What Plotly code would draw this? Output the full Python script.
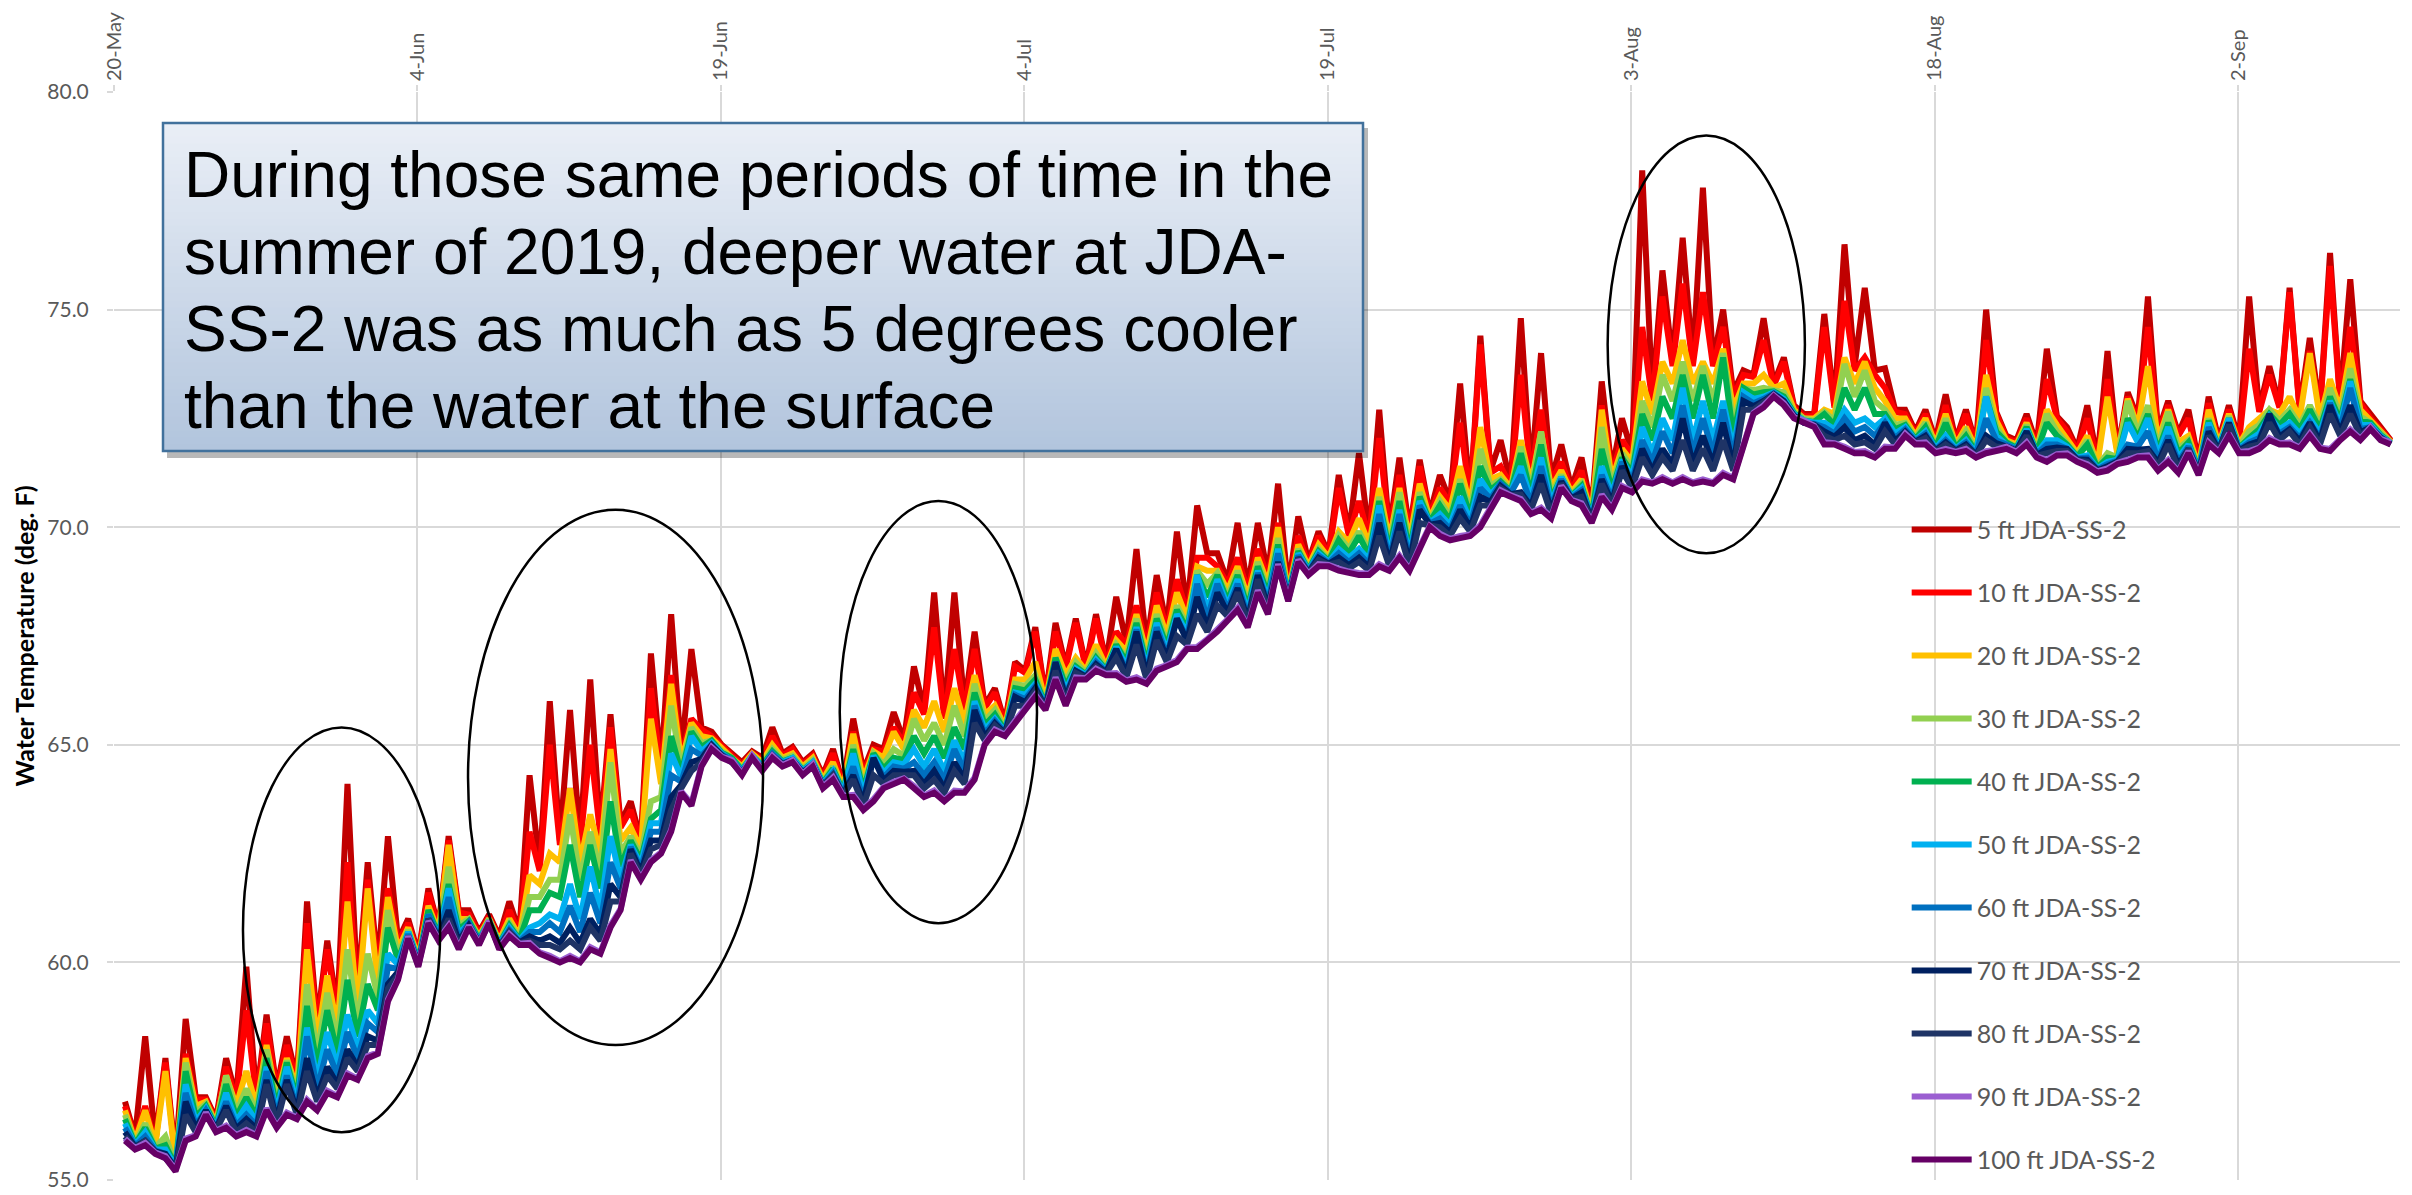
import plotly.graph_objects as go
import pandas as pd

# ---------------- data (deg F), one value per afternoon (DAY) and per night (NIGHT) ----------------
START = "2019-05-20 13:00"
DEPTHS = ["5 ft JDA-SS-2", "10 ft JDA-SS-2", "20 ft JDA-SS-2", "30 ft JDA-SS-2", "40 ft JDA-SS-2",
          "50 ft JDA-SS-2", "60 ft JDA-SS-2", "70 ft JDA-SS-2", "80 ft JDA-SS-2", "90 ft JDA-SS-2",
          "100 ft JDA-SS-2"]
COLORS = ["#C00000", "#FF0000", "#FFC000", "#92D050", "#00B050", "#00B0F0", "#0070C0",
          "#002060", "#1F3466", "#9B5FD1", "#660066"]

D5 = [56.8, 58.3, 57.8, 58.7, 56.9, 57.8, 59.9, 58.8, 58.3, 61.4,
      60.5, 64.1, 62.3, 62.9, 61.0, 61.7, 62.9, 61.2, 61.1, 61.4,
      64.3, 66.0, 65.8, 66.5, 65.7, 63.7, 67.1, 68.0, 67.2, 65.3,
      64.8, 64.85, 65.4, 64.95, 64.8, 64.9, 65.6, 65.0, 65.75, 66.8,
      68.5, 68.5, 67.6, 66.3, 66.9, 67.7, 67.8, 67.9, 68.0, 68.4,
      69.5, 68.9, 69.9, 70.5, 69.4, 70.1, 70.1, 71.0, 70.25, 69.9,
      71.2, 71.7, 72.7, 71.6, 71.55, 71.2, 73.3, 74.4, 72.0, 74.8,
      74.0, 71.9, 71.6, 73.35, 72.5, 78.2, 75.9, 76.65, 77.8, 75.0,
      73.6, 74.8, 73.9, 72.6, 74.9, 76.5, 75.5, 73.65, 72.7, 72.7,
      73.05, 72.7, 75.0, 72.1, 72.6, 74.1, 72.3, 72.8, 74.05, 73.1,
      75.3, 72.9, 72.7, 73.0, 72.8, 75.3, 73.7, 75.5, 74.35, 76.3,
      75.7, 72.6, 72.0]
D10 = [56.7, 56.7, 57.7, 57.9, 56.85, 57.6, 58.9, 58.6, 58.1, 60.9,
       60.3, 62.3, 61.9, 61.7, 60.9, 61.6, 62.8, 61.1, 61.05, 61.2,
       63.0, 65.0, 64.0, 65.0, 65.4, 63.5, 66.3, 66.6, 65.6, 65.2,
       64.75, 64.8, 65.2, 64.9, 64.75, 64.8, 65.3, 64.9, 65.4, 66.2,
       67.7, 67.2, 67.2, 66.2, 66.8, 67.6, 67.6, 67.8, 67.9, 67.6,
       68.2, 68.5, 68.8, 69.3, 69.1, 69.3, 69.5, 70.1, 69.8, 69.8,
       70.9, 70.6, 72.05, 71.2, 71.4, 70.9, 72.4, 74.2, 71.4, 73.5,
       72.7, 71.5, 71.3, 72.8, 72.0, 74.6, 75.3, 75.6, 75.4, 74.6,
       73.5, 74.3, 73.8, 72.55, 74.6, 75.2, 73.9, 73.2, 72.6, 72.6,
       72.8, 72.6, 74.3, 72.05, 72.5, 73.4, 72.2, 72.5, 73.4, 73.0,
       74.6, 72.8, 72.5, 72.85, 72.7, 74.1, 73.5, 75.4, 74.05, 76.0,
       74.6, 72.5, 71.98]
D20 = [56.6, 56.6, 57.5, 57.8, 56.8, 57.4, 57.5, 58.1, 57.8, 60.3,
       59.7, 61.4, 61.7, 61.5, 60.8, 61.3, 62.7, 61.0, 61.0, 61.0,
       62.0, 62.5, 64.0, 63.4, 64.9, 63.1, 65.6, 66.4, 65.5, 65.15,
       64.7, 64.8, 65.0, 64.8, 64.7, 64.6, 65.25, 64.85, 65.3, 65.8,
       66.0, 66.3, 66.6, 65.9, 66.5, 66.9, 67.2, 67.0, 67.3, 67.4,
       68.0, 68.2, 68.5, 69.1, 69.0, 69.1, 69.3, 70.0, 69.6, 69.6,
       69.9, 70.2, 70.9, 70.9, 71.0, 70.7, 71.4, 72.3, 71.2, 72.0,
       72.2, 71.3, 71.1, 72.7, 71.8, 73.35, 73.8, 74.3, 73.8, 74.1,
       73.3, 73.5, 73.3, 72.5, 72.7, 73.9, 73.8, 72.9, 72.5, 72.5,
       72.6, 72.3, 73.5, 72.0, 72.4, 72.7, 72.0, 72.1, 73.0, 72.95,
       73.7, 72.7, 72.1, 72.7, 72.6, 72.3, 72.7, 73.0, 74.0, 73.4,
       74.0, 72.45, 71.96]
D30 = [56.5, 56.3, 56.0, 57.7, 56.75, 57.4, 57.1, 58.0, 57.75, 59.5,
       59.3, 60.3, 60.2, 61.2, 60.75, 61.2, 62.2, 61.0, 61.0, 60.9,
       61.5, 61.9, 63.4, 63.0, 64.6, 62.9, 63.7, 65.9, 65.4, 65.1,
       64.7, 64.75, 64.9, 64.75, 64.65, 64.5, 65.0, 64.8, 64.9, 65.6,
       65.5, 65.9, 66.4, 65.8, 66.4, 66.6, 67.0, 66.9, 67.1, 67.3,
       67.9, 68.0, 68.2, 69.0, 68.95, 69.0, 69.2, 69.75, 69.5, 69.5,
       69.8, 69.9, 70.7, 70.8, 70.8, 70.6, 71.1, 71.8, 71.1, 71.85,
       72.2, 71.2, 71.0, 72.3, 71.7, 72.9, 73.5, 73.8, 73.7, 74.0,
       73.2, 73.2, 73.1, 72.5, 72.65, 73.75, 73.6, 72.7, 72.4, 72.4,
       72.5, 72.2, 73.2, 71.95, 72.35, 72.6, 71.95, 72.0, 71.7, 72.9,
       72.8, 72.65, 72.0, 72.5, 72.55, 72.2, 72.7, 72.7, 72.8, 73.2,
       73.65, 72.4, 71.95]
D40 = [56.4, 56.2, 55.8, 57.5, 56.7, 57.2, 56.9, 57.8, 57.7, 59.0,
       58.9, 59.6, 59.5, 60.8, 60.7, 61.2, 61.8, 60.95, 60.95, 60.85,
       61.2, 61.6, 62.7, 62.7, 63.7, 62.8, 63.3, 65.2, 65.3, 65.1,
       64.7, 64.75, 64.85, 64.7, 64.6, 64.45, 64.9, 64.8, 64.7, 65.2,
       65.2, 65.4, 66.2, 65.7, 66.3, 66.5, 67.0, 66.8, 67.0, 67.3,
       67.8, 67.9, 68.1, 68.9, 68.9, 68.9, 69.1, 69.6, 69.45, 69.45,
       69.7, 69.8, 70.6, 70.6, 70.7, 70.5, 71.0, 71.4, 71.05, 71.7,
       71.9, 71.15, 70.95, 71.8, 71.6, 72.6, 73.0, 73.5, 73.5, 73.9,
       73.2, 73.1, 73.0, 72.45, 72.6, 73.2, 73.2, 72.6, 72.35, 72.3,
       72.4, 72.1, 73.0, 71.95, 72.3, 72.4, 71.9, 71.9, 71.6, 72.5,
       72.6, 72.4, 71.95, 72.45, 72.5, 72.05, 72.6, 72.6, 72.7, 73.0,
       73.4, 72.4, 71.94]
D50 = [56.3, 56.1, 55.7, 57.2, 56.65, 57.0, 56.7, 57.6, 57.6, 58.5,
       58.4, 58.8, 58.9, 60.2, 60.7, 61.1, 61.7, 60.9, 60.95, 60.8,
       60.8, 61.1, 61.8, 62.2, 62.9, 62.7, 63.2, 64.8, 65.2, 65.05,
       64.65, 64.75, 64.8, 64.7, 64.6, 64.4, 64.8, 64.75, 64.6, 64.9,
       64.9, 65.1, 66.0, 65.6, 66.2, 66.4, 66.9, 66.75, 66.95, 67.25,
       67.7, 67.8, 68.0, 68.9, 68.8, 68.8, 69.0, 69.5, 69.4, 69.4,
       69.5, 69.5, 70.5, 70.4, 70.6, 70.3, 70.7, 71.1, 71.0, 71.4,
       71.6, 71.15, 70.9, 71.4, 71.55, 72.3, 72.5, 73.2, 72.9, 72.9,
       73.1, 73.0, 72.95, 72.45, 72.4, 72.7, 72.5, 72.5, 72.3, 72.2,
       72.1, 72.0, 73.0, 71.9, 72.25, 72.0, 71.85, 71.65, 71.5, 72.4,
       72.5, 72.3, 71.9, 72.4, 72.5, 72.0, 72.55, 72.4, 72.5, 72.9,
       73.35, 72.35, 71.93]
D60 = [56.2, 56.0, 55.6, 57.0, 56.6, 56.8, 56.5, 57.5, 57.4, 58.3,
       58.0, 58.4, 58.6, 59.9, 60.65, 61.1, 61.5, 60.9, 60.9, 60.75,
       60.7, 60.9, 61.3, 61.6, 62.3, 62.65, 63.0, 64.3, 64.9, 65.0,
       64.65, 64.7, 64.8, 64.65, 64.55, 64.35, 64.5, 64.7, 64.5, 64.6,
       64.6, 64.9, 65.9, 65.55, 66.15, 66.35, 66.9, 66.7, 66.9, 67.2,
       67.65, 67.7, 67.9, 68.7, 68.7, 68.7, 68.95, 69.4, 69.35, 69.35,
       69.4, 69.4, 70.3, 70.3, 70.5, 70.2, 70.5, 70.9, 71.0, 71.2,
       71.4, 71.1, 70.85, 71.2, 71.5, 72.0, 72.2, 72.8, 72.5, 72.7,
       73.0, 72.95, 72.9, 72.4, 72.3, 72.5, 72.3, 72.4, 72.25, 72.15,
       72.0, 71.95, 72.5, 71.9, 72.2, 71.9, 71.8, 71.6, 71.45, 71.9,
       72.2, 72.1, 71.85, 72.3, 72.4, 71.95, 72.5, 72.3, 72.4, 72.85,
       73.2, 72.3, 71.92]
D70 = [56.1, 55.9, 55.6, 56.8, 56.6, 56.7, 56.4, 57.3, 57.3, 57.8,
       57.6, 58.0, 58.3, 59.5, 60.6, 61.0, 61.2, 60.85, 60.9, 60.7,
       60.6, 60.6, 60.8, 61.0, 61.8, 62.6, 62.8, 63.8, 64.6, 65.0,
       64.6, 64.7, 64.75, 64.65, 64.55, 64.3, 64.3, 64.7, 64.4, 64.4,
       64.4, 64.6, 65.8, 65.5, 66.1, 66.3, 66.9, 66.7, 66.85, 67.2,
       67.6, 67.6, 67.9, 68.4, 68.5, 68.6, 68.9, 69.2, 69.3, 69.3,
       69.3, 69.3, 70.1, 70.1, 70.4, 70.1, 70.4, 70.7, 70.95, 70.8,
       71.2, 71.05, 70.8, 71.1, 71.4, 71.8, 71.8, 72.5, 72.1, 72.4,
       72.9, 72.9, 72.9, 72.4, 72.2, 72.3, 72.1, 72.4, 72.2, 72.1,
       71.95, 71.9, 72.1, 71.85, 72.2, 71.8, 71.8, 71.55, 71.4, 71.8,
       71.8, 72.0, 71.8, 72.2, 72.4, 71.9, 72.6, 72.25, 72.4, 72.8,
       72.8, 72.3, 71.91]
D80 = [56.0, 55.9, 55.5, 56.5, 56.55, 56.6, 56.3, 57.2, 57.2, 57.5,
       57.4, 57.8, 58.1, 59.4, 60.6, 61.0, 61.0, 60.85, 60.9, 60.7,
       60.5, 60.4, 60.5, 60.8, 61.4, 62.5, 62.6, 63.5, 64.4, 64.95,
       64.6, 64.7, 64.75, 64.6, 64.5, 64.3, 64.2, 64.3, 64.3, 64.3,
       64.2, 64.4, 65.5, 65.45, 65.9, 66.25, 66.7, 66.65, 66.8, 67.0,
       67.3, 67.4, 67.5, 68.0, 68.2, 68.5, 68.8, 69.15, 69.3, 69.25,
       69.2, 69.2, 69.8, 69.9, 70.1, 70.0, 70.2, 70.5, 70.9, 70.75,
       71.0, 71.0, 70.7, 71.0, 71.3, 71.6, 71.6, 72.0, 71.8, 72.0,
       72.7, 72.85, 72.85, 72.4, 72.1, 72.1, 71.95, 72.2, 72.15, 72.05,
       71.9, 71.85, 72.0, 71.85, 72.1, 71.7, 71.75, 71.5, 71.35, 71.7,
       71.75, 71.9, 71.8, 72.1, 72.35, 71.85, 72.4, 72.2, 72.3, 72.6,
       72.6, 72.3, 71.9]
D90 = [55.95, 55.85, 55.55, 55.95, 56.55, 56.25, 56.15, 56.65, 56.55, 56.85,
       57.05, 57.45, 57.85, 59.15, 60.6, 60.95, 60.85, 60.85, 60.95, 60.65,
       60.45, 60.15, 60.15, 60.35, 60.85, 62.35, 62.35, 63.05, 63.65, 64.95,
       64.65, 64.75, 64.75, 64.65, 64.55, 64.25, 63.85, 63.75, 64.15, 64.05,
       63.95, 63.95, 64.25, 65.35, 65.55, 66.15, 66.55, 66.55, 66.75, 66.65,
       66.55, 66.75, 66.95, 67.25, 67.65, 68.15, 68.55, 69.15, 69.25, 69.15,
       69.05, 68.95, 69.15, 69.35, 69.55, 69.85, 69.8, 70.05, 70.85, 70.65,
       70.45, 70.95, 70.55, 70.75, 70.95, 71.1, 71.15, 71.15, 71.1, 71.25,
       71.85, 72.8, 72.85, 72.45, 71.95, 71.85, 71.75, 71.85, 72.15, 71.95,
       71.8, 71.8, 71.75, 71.85, 71.95, 71.55, 71.7, 71.45, 71.35, 71.55,
       71.65, 71.55, 71.75, 71.95, 72.15, 71.75, 72.05, 71.95, 72.15, 71.8,
       72.25, 72.3, 71.95]
D100 = [55.9, 55.8, 55.5, 55.9, 56.5, 56.2, 56.1, 56.6, 56.5, 56.8,
        57.0, 57.4, 57.8, 59.1, 60.55, 60.9, 60.8, 60.8, 60.9, 60.6,
        60.4, 60.1, 60.1, 60.3, 60.8, 62.3, 62.3, 63.0, 63.6, 64.9,
        64.6, 64.7, 64.7, 64.6, 64.5, 64.2, 63.8, 63.7, 64.1, 64.0,
        63.9, 63.9, 64.2, 65.3, 65.5, 66.1, 66.5, 66.5, 66.7, 66.6,
        66.5, 66.7, 66.9, 67.2, 67.6, 68.1, 68.5, 69.1, 69.2, 69.1,
        69.0, 68.9, 69.1, 69.3, 69.5, 69.8, 69.75, 70.0, 70.8, 70.6,
        70.4, 70.9, 70.5, 70.7, 70.9, 71.05, 71.1, 71.1, 71.05, 71.2,
        71.8, 72.75, 72.8, 72.4, 71.9, 71.8, 71.7, 71.8, 72.1, 71.9,
        71.75, 71.75, 71.7, 71.8, 71.9, 71.5, 71.65, 71.4, 71.3, 71.5,
        71.6, 71.5, 71.7, 71.9, 72.1, 71.7, 72.0, 71.9, 72.1, 71.75,
        72.2, 72.25, 71.9]

N5 = [56.0, 55.9, 55.5, 56.9, 56.4, 56.9, 56.9, 57.1, 57.3, 58.6,
      58.9, 59.3, 59.9, 60.5, 60.2, 60.8, 61.2, 60.7, 60.6, 60.7,
      62.2, 62.8, 62.8, 63.0, 63.2, 62.8, 64.5, 64.8, 65.4, 65.0,
      64.6, 64.7, 64.8, 64.6, 64.3, 64.1, 64.4, 64.9, 65.1, 65.8,
      65.7, 65.9, 65.9, 65.5, 66.7, 66.1, 66.8, 66.8, 66.9, 67.35,
      67.3, 67.7, 68.1, 69.4, 68.75, 68.6, 68.9, 68.6, 69.2, 69.4,
      69.85, 69.8, 69.9, 69.9, 70.3, 70.6, 70.7, 71.3, 71.0, 71.2,
      71.1, 70.9, 70.4, 71.3, 71.7, 73.0, 73.8, 73.8, 73.8, 73.1,
      73.5, 73.3, 72.8, 72.6, 72.8, 73.7, 73.6, 72.7, 72.2, 72.0,
      72.0, 71.9, 72.65, 72.0, 71.9, 72.55, 71.8, 71.55, 71.75, 72.5,
      72.2, 72.15, 71.5, 72.0, 72.0, 72.7, 72.8, 72.7, 72.7, 72.9,
      72.9, 72.3]
N10 = [55.95, 55.85, 55.45, 56.85, 56.35, 56.85, 56.85, 57.05, 57.25, 58.5,
       58.8, 59.2, 59.8, 60.45, 60.15, 60.75, 61.15, 60.65, 60.55, 60.65,
       62.1, 62.7, 62.7, 62.9, 63.1, 62.75, 64.4, 64.75, 65.35, 64.95,
       64.55, 64.65, 64.75, 64.55, 64.25, 64.05, 64.35, 64.85, 65.05, 65.7,
       65.6, 65.8, 65.85, 65.45, 66.65, 66.05, 66.75, 66.75, 66.85, 67.3,
       67.25, 67.65, 68.05, 69.3, 68.7, 68.55, 68.85, 68.55, 69.15, 69.35,
       69.8, 69.75, 69.85, 69.85, 70.25, 70.55, 70.65, 71.25, 70.95, 71.15,
       71.05, 70.85, 70.35, 71.25, 71.65, 72.9, 73.7, 73.7, 73.7, 73.0,
       73.45, 73.25, 72.75, 72.55, 72.75, 73.6, 73.5, 72.65, 72.15, 71.95,
       71.95, 71.85, 72.6, 71.95, 71.85, 72.5, 71.75, 71.5, 71.7, 72.45,
       72.15, 72.1, 71.45, 71.95, 71.95, 72.65, 72.75, 72.65, 72.65, 72.85,
       72.85, 72.25]
N20 = [55.9, 55.8, 55.4, 56.7, 56.3, 56.7, 56.7, 56.9, 57.1, 58.2,
       58.5, 58.9, 59.5, 60.3, 60.1, 60.7, 61.0, 60.6, 60.5, 60.6,
       61.8, 62.3, 62.3, 62.5, 62.8, 62.6, 64.1, 64.6, 65.2, 64.9,
       64.5, 64.6, 64.7, 64.5, 64.2, 64.0, 64.2, 64.7, 64.9, 65.4,
       65.3, 65.5, 65.7, 65.4, 66.5, 66.0, 66.6, 66.7, 66.8, 67.15,
       67.1, 67.5, 67.9, 69.0, 68.55, 68.4, 68.7, 68.5, 69.1, 69.3,
       69.65, 69.6, 69.7, 69.7, 70.2, 70.4, 70.5, 71.1, 70.9, 71.0,
       70.9, 70.8, 70.3, 71.1, 71.5, 72.6, 73.3, 73.3, 73.3, 72.7,
       73.3, 73.2, 72.7, 72.5, 72.6, 73.3, 73.2, 72.5, 72.1, 71.9,
       71.9, 71.8, 72.45, 71.9, 71.8, 72.35, 71.7, 71.45, 71.65, 72.3,
       72.0, 71.95, 71.4, 71.9, 71.9, 72.5, 72.6, 72.5, 72.5, 72.7,
       72.7, 72.2]
N30 = [55.85, 55.75, 55.35, 56.55, 56.25, 56.55, 56.55, 56.75, 56.95, 57.9,
       58.2, 58.6, 59.2, 60.15, 60.05, 60.65, 60.85, 60.55, 60.45, 60.55,
       61.5, 61.9, 61.9, 62.1, 62.5, 62.45, 63.8, 64.45, 65.05, 64.85,
       64.45, 64.55, 64.65, 64.45, 64.15, 63.95, 64.05, 64.55, 64.75, 65.1,
       65.0, 65.2, 65.55, 65.35, 66.35, 65.95, 66.45, 66.65, 66.75, 67.0,
       66.95, 67.35, 67.75, 68.7, 68.4, 68.25, 68.55, 68.45, 69.05, 69.25,
       69.5, 69.45, 69.55, 69.55, 70.15, 70.25, 70.35, 70.95, 70.85, 70.85,
       70.75, 70.75, 70.25, 70.95, 71.35, 72.3, 72.9, 72.9, 72.9, 72.4,
       73.15, 73.15, 72.65, 72.45, 72.45, 73.0, 72.9, 72.35, 72.05, 71.85,
       71.85, 71.75, 72.3, 71.85, 71.75, 72.2, 71.65, 71.4, 71.6, 72.15,
       71.85, 71.8, 71.35, 71.85, 71.85, 72.35, 72.45, 72.35, 72.35, 72.55,
       72.55, 72.15]
N40 = [55.82, 55.72, 55.32, 56.45, 56.22, 56.45, 56.45, 56.65, 56.85, 57.6,
       57.9, 58.3, 58.9, 60.05, 60.02, 60.62, 60.75, 60.52, 60.42, 60.52,
       61.2, 61.5, 61.5, 61.7, 62.2, 62.35, 63.5, 64.35, 64.95, 64.82,
       64.42, 64.52, 64.62, 64.42, 64.12, 63.92, 63.95, 64.45, 64.65, 64.8,
       64.7, 64.9, 65.45, 65.32, 66.25, 65.92, 66.35, 66.62, 66.72, 66.9,
       66.85, 67.25, 67.65, 68.4, 68.3, 68.15, 68.45, 68.42, 69.02, 69.22,
       69.4, 69.35, 69.45, 69.45, 70.12, 70.15, 70.25, 70.85, 70.82, 70.75,
       70.65, 70.72, 70.22, 70.85, 71.25, 72.0, 72.5, 72.5, 72.5, 72.1,
       73.05, 73.12, 72.62, 72.42, 72.35, 72.7, 72.6, 72.25, 72.02, 71.82,
       71.82, 71.72, 72.2, 71.82, 71.72, 72.1, 71.62, 71.37, 71.57, 72.05,
       71.75, 71.7, 71.32, 71.82, 71.82, 72.25, 72.35, 72.25, 72.25, 72.45,
       72.45, 72.12]
N50 = [55.8, 55.7, 55.3, 56.35, 56.2, 56.35, 56.35, 56.55, 56.75, 57.3,
       57.6, 58.0, 58.6, 59.95, 60.0, 60.6, 60.65, 60.5, 60.4, 60.5,
       60.9, 61.0, 61.0, 61.2, 61.9, 62.25, 63.2, 64.25, 64.85, 64.8,
       64.4, 64.5, 64.6, 64.4, 64.1, 63.9, 63.85, 64.35, 64.55, 64.5,
       64.4, 64.6, 65.35, 65.3, 66.15, 65.9, 66.25, 66.6, 66.7, 66.8,
       66.75, 67.15, 67.55, 68.1, 68.2, 68.05, 68.35, 68.4, 69.0, 69.2,
       69.3, 69.25, 69.35, 69.35, 70.1, 70.05, 70.15, 70.75, 70.8, 70.65,
       70.55, 70.7, 70.2, 70.75, 71.15, 71.7, 72.0, 72.0, 72.0, 71.8,
       72.95, 73.1, 72.6, 72.4, 72.25, 72.4, 72.3, 72.15, 72.0, 71.8,
       71.8, 71.7, 72.1, 71.8, 71.7, 72.0, 71.6, 71.35, 71.55, 71.95,
       71.65, 71.6, 71.3, 71.8, 71.8, 72.15, 72.25, 72.15, 72.15, 72.35,
       72.35, 72.1]
N60 = [55.78, 55.68, 55.28, 56.25, 56.18, 56.25, 56.25, 56.45, 56.65, 57.1,
       57.4, 57.8, 58.4, 59.85, 59.98, 60.58, 60.55, 60.48, 60.38, 60.48,
       60.7, 60.7, 60.7, 60.9, 61.7, 62.15, 63.0, 64.15, 64.75, 64.78,
       64.38, 64.48, 64.58, 64.38, 64.08, 63.88, 63.75, 64.25, 64.45, 64.3,
       64.2, 64.4, 65.25, 65.28, 66.05, 65.88, 66.15, 66.58, 66.68, 66.7,
       66.65, 67.05, 67.45, 67.9, 68.1, 67.95, 68.25, 68.38, 68.98, 69.18,
       69.2, 69.15, 69.25, 69.25, 70.08, 69.95, 70.05, 70.65, 70.78, 70.55,
       70.45, 70.68, 70.18, 70.65, 71.05, 71.5, 71.7, 71.7, 71.7, 71.6,
       72.85, 73.08, 72.58, 72.38, 72.15, 72.2, 72.1, 72.05, 71.98, 71.78,
       71.78, 71.68, 72.0, 71.78, 71.68, 71.9, 71.58, 71.33, 71.53, 71.85,
       71.55, 71.5, 71.28, 71.78, 71.78, 72.05, 72.15, 72.05, 72.05, 72.25,
       72.25, 72.08]
N70 = [55.76, 55.66, 55.26, 56.18, 56.16, 56.18, 56.18, 56.38, 56.58, 56.9,
       57.2, 57.6, 58.2, 59.78, 59.96, 60.56, 60.48, 60.46, 60.36, 60.46,
       60.5, 60.45, 60.45, 60.65, 61.5, 62.08, 62.8, 64.08, 64.68, 64.76,
       64.36, 64.46, 64.56, 64.36, 64.06, 63.86, 63.68, 64.18, 64.38, 64.1,
       64.0, 64.2, 65.18, 65.26, 65.98, 65.86, 66.08, 66.56, 66.66, 66.63,
       66.58, 66.98, 67.38, 67.7, 68.03, 67.88, 68.18, 68.36, 68.96, 69.16,
       69.13, 69.08, 69.18, 69.18, 70.06, 69.88, 69.98, 70.58, 70.76, 70.48,
       70.38, 70.66, 70.16, 70.58, 70.98, 71.3, 71.45, 71.45, 71.45, 71.4,
       72.78, 73.06, 72.56, 72.36, 72.08, 72.0, 71.9, 71.98, 71.96, 71.76,
       71.76, 71.66, 71.93, 71.76, 71.66, 71.83, 71.56, 71.31, 71.51, 71.78,
       71.48, 71.43, 71.26, 71.76, 71.76, 71.98, 72.08, 71.98, 71.98, 72.18,
       72.18, 72.06]
N80 = [55.74, 55.64, 55.24, 56.1, 56.14, 56.1, 56.1, 56.3, 56.5, 56.8,
       57.1, 57.5, 58.1, 59.7, 59.94, 60.54, 60.4, 60.44, 60.34, 60.44,
       60.4, 60.3, 60.3, 60.5, 61.4, 62.0, 62.7, 64.0, 64.6, 64.74,
       64.34, 64.44, 64.54, 64.34, 64.04, 63.84, 63.6, 64.1, 64.3, 64.0,
       63.9, 64.1, 65.1, 65.24, 65.9, 65.84, 66.0, 66.54, 66.64, 66.55,
       66.5, 66.9, 67.3, 67.6, 67.95, 67.8, 68.1, 68.34, 68.94, 69.14,
       69.05, 69.0, 69.1, 69.1, 70.04, 69.8, 69.9, 70.5, 70.74, 70.4,
       70.3, 70.64, 70.14, 70.5, 70.9, 71.2, 71.3, 71.3, 71.3, 71.3,
       72.7, 73.04, 72.54, 72.34, 72.0, 71.9, 71.8, 71.9, 71.94, 71.74,
       71.74, 71.64, 71.85, 71.74, 71.64, 71.75, 71.54, 71.29, 71.49, 71.7,
       71.4, 71.35, 71.24, 71.74, 71.74, 71.9, 72.0, 71.9, 71.9, 72.1,
       72.1, 72.04]
N90 = [55.73, 55.63, 55.23, 56.03, 56.13, 56.03, 56.03, 56.23, 56.43, 56.63,
       56.93, 57.33, 57.93, 59.63, 59.93, 60.53, 60.33, 60.43, 60.33, 60.43,
       60.23, 60.03, 60.03, 60.23, 61.23, 61.93, 62.53, 63.93, 64.53, 64.73,
       64.33, 64.43, 64.53, 64.33, 64.03, 63.83, 63.53, 64.03, 64.23, 63.83,
       63.73, 63.93, 65.03, 65.23, 65.83, 65.83, 65.93, 66.53, 66.63, 66.48,
       66.43, 66.83, 67.23, 67.43, 67.88, 67.73, 68.03, 68.33, 68.93, 69.13,
       68.98, 68.93, 69.03, 69.03, 70.03, 69.73, 69.83, 70.43, 70.73, 70.33,
       70.23, 70.63, 70.13, 70.43, 70.83, 71.03, 71.03, 71.03, 71.03, 71.13,
       72.63, 73.03, 72.53, 72.33, 71.93, 71.73, 71.63, 71.83, 71.93, 71.73,
       71.73, 71.63, 71.78, 71.73, 71.63, 71.68, 71.53, 71.28, 71.48, 71.63,
       71.33, 71.28, 71.23, 71.73, 71.73, 71.83, 71.93, 71.83, 71.83, 72.03,
       72.03, 72.03]
N100 = [55.7, 55.6, 55.2, 56.0, 56.1, 56.0, 56.0, 56.2, 56.4, 56.6,
        56.9, 57.3, 57.9, 59.6, 59.9, 60.5, 60.3, 60.4, 60.3, 60.4,
        60.2, 60.0, 60.0, 60.2, 61.2, 61.9, 62.5, 63.9, 64.5, 64.7,
        64.3, 64.4, 64.5, 64.3, 64.0, 63.8, 63.5, 64.0, 64.2, 63.8,
        63.7, 63.9, 65.0, 65.2, 65.8, 65.8, 65.9, 66.5, 66.6, 66.45,
        66.4, 66.8, 67.2, 67.4, 67.85, 67.7, 68.0, 68.3, 68.9, 69.1,
        68.95, 68.9, 69.0, 69.0, 70.0, 69.7, 69.8, 70.4, 70.7, 70.3,
        70.2, 70.6, 70.1, 70.4, 70.8, 71.0, 71.0, 71.0, 71.0, 71.1,
        72.6, 73.0, 72.5, 72.3, 71.9, 71.7, 71.6, 71.8, 71.9, 71.7,
        71.7, 71.6, 71.75, 71.7, 71.6, 71.65, 71.5, 71.25, 71.45, 71.6,
        71.3, 71.25, 71.2, 71.7, 71.7, 71.8, 71.9, 71.8, 71.8, 72.0,
        72.0, 72.0]

DAY = [D5, D10, D20, D30, D40, D50, D60, D70, D80, D90, D100]
NIGHT = [N5, N10, N20, N30, N40, N50, N60, N70, N80, N90, N100]

Y_TICKS = [55, 60, 65, 70, 75, 80]
NOTE_LINES = ["During those same periods of time in the",
              "summer of 2019, deeper water at JDA-",
              "SS-2 was as much as 5 degrees cooler",
              "than the water at the surface"]

# ---------------- geometry (page px; the page body adds an 8 px offset) ----------------
OFF = 8
W, H = 2412 - OFF, 1195 - OFF
PLOT_L, PLOT_R, PLOT_T, PLOT_B = 114, 2400, 92, 1180
ML, MT = PLOT_L - OFF, PLOT_T - OFF
MR, MB = 2412 - PLOT_R, 1195 - PLOT_B
PW, PH = PLOT_R - PLOT_L, PLOT_B - PLOT_T


def px(x):
    return (x - PLOT_L) / PW


def py(y):
    return 1 - (y - PLOT_T) / PH


fig = go.Figure()
for name, color, day, night in zip(DEPTHS, COLORS, DAY, NIGHT):
    yv = []
    for i in range(len(day)):
        yv.append(day[i])
        if i < len(night):
            yv.append(night[i])
    xv = pd.date_range(START, periods=len(yv), freq="12h")
    fig.add_trace(go.Scatter(x=xv, y=yv, mode="lines", name=name, legendgroup=name,
                             line=dict(color=color, width=6), hoverinfo="x+y+name"))

shapes = []
ELLIPSES = [("2019-05-26 09:00", "2019-06-05 03:00", 56.1, 65.4),
            ("2019-06-06 12:00", "2019-06-21 02:00", 58.1, 70.4),
            ("2019-06-24 21:00", "2019-07-04 15:00", 60.9, 70.6),
            ("2019-08-01 20:00", "2019-08-11 14:00", 69.4, 79.0)]
for x0, x1, y0, y1 in ELLIPSES:
    shapes.append(dict(type="circle", xref="x", yref="y", x0=x0, x1=x1, y0=y0, y1=y1,
                       line=dict(color="black", width=2.5), layer="above"))

BX0, BX1, BY0, BY1 = 163, 1363, 123, 451
shapes.append(dict(type="rect", xref="paper", yref="paper", x0=px(BX0 + 4), x1=px(BX1 + 5),
                   y0=py(BY1 + 7), y1=py(BY0 + 5), fillcolor="rgba(0,0,0,0.28)",
                   line=dict(width=0), layer="above"))
top_c = (233, 238, 246)
bot_c = (178, 197, 221)
NSTRIP = 48
for k in range(NSTRIP):
    t = k / (NSTRIP - 1)
    c = tuple(round(top_c[j] + (bot_c[j] - top_c[j]) * t) for j in range(3))
    ya = BY0 + (BY1 - BY0) * k / NSTRIP
    yb = BY0 + (BY1 - BY0) * (k + 1) / NSTRIP + 0.8
    shapes.append(dict(type="rect", xref="paper", yref="paper", x0=px(BX0), x1=px(BX1),
                       y0=py(yb), y1=py(ya), fillcolor="rgb(%d,%d,%d)" % c,
                       line=dict(width=0), layer="above"))
shapes.append(dict(type="rect", xref="paper", yref="paper", x0=px(BX0), x1=px(BX1),
                   y0=py(BY1), y1=py(BY0), fillcolor="rgba(0,0,0,0)",
                   line=dict(color="#41719C", width=2.5), layer="above"))

annotations = []
LINE_CENTERS = [175, 252, 329, 406]
for txt, yc in zip(NOTE_LINES, LINE_CENTERS):
    annotations.append(dict(xref="paper", yref="paper", x=px(182), y=py(yc), xanchor="left",
                            yanchor="middle", text=txt, showarrow=False,
                            font=dict(family="Liberation Sans, Arial, sans-serif", size=64,
                                      color="black")))

fig.update_layout(
    width=W, height=H,
    margin=dict(l=ML, r=MR, t=MT, b=MB, pad=0, autoexpand=False),
    paper_bgcolor="white", plot_bgcolor="white",
    font=dict(family="Lato, 'Open Sans', sans-serif", color="#595959"),
    showlegend=True,
    legend=dict(x=0.7842, y=0.6187, xanchor="left", yanchor="top", bgcolor="rgba(0,0,0,0)",
                font=dict(size=25, color="#595959"), tracegroupgap=27.5, itemwidth=60),
    shapes=shapes,
    annotations=annotations,
    xaxis=dict(type="date", range=["2019-05-20", "2019-09-10"], side="top", automargin=False,
               tick0="2019-05-20", dtick=15 * 86400000, tickformat="%-d-%b", tickangle=-90,
               tickfont=dict(size=20, color="#595959"), showgrid=True, gridcolor="#D9D9D9",
               gridwidth=2, ticks="outside", ticklen=6, tickcolor="#D9D9D9", tickwidth=2,
               ticklabeloverflow="allow", zeroline=False, showline=False),
    yaxis=dict(range=[55, 80], tickvals=Y_TICKS, tickformat=".1f", automargin=False,
               tickfont=dict(size=21, color="#595959"), showgrid=True, gridcolor="#D9D9D9",
               gridwidth=2, ticks="outside", ticklen=6, tickcolor="#D9D9D9", tickwidth=2,
               ticklabelstandoff=14, ticklabeloverflow="allow", zeroline=False, showline=False,
               title=dict(text="<b>Water Temperature (deg. F)</b>", standoff=5,
                          font=dict(size=25, color="black"))),
)

fig.write_html("out.html")
